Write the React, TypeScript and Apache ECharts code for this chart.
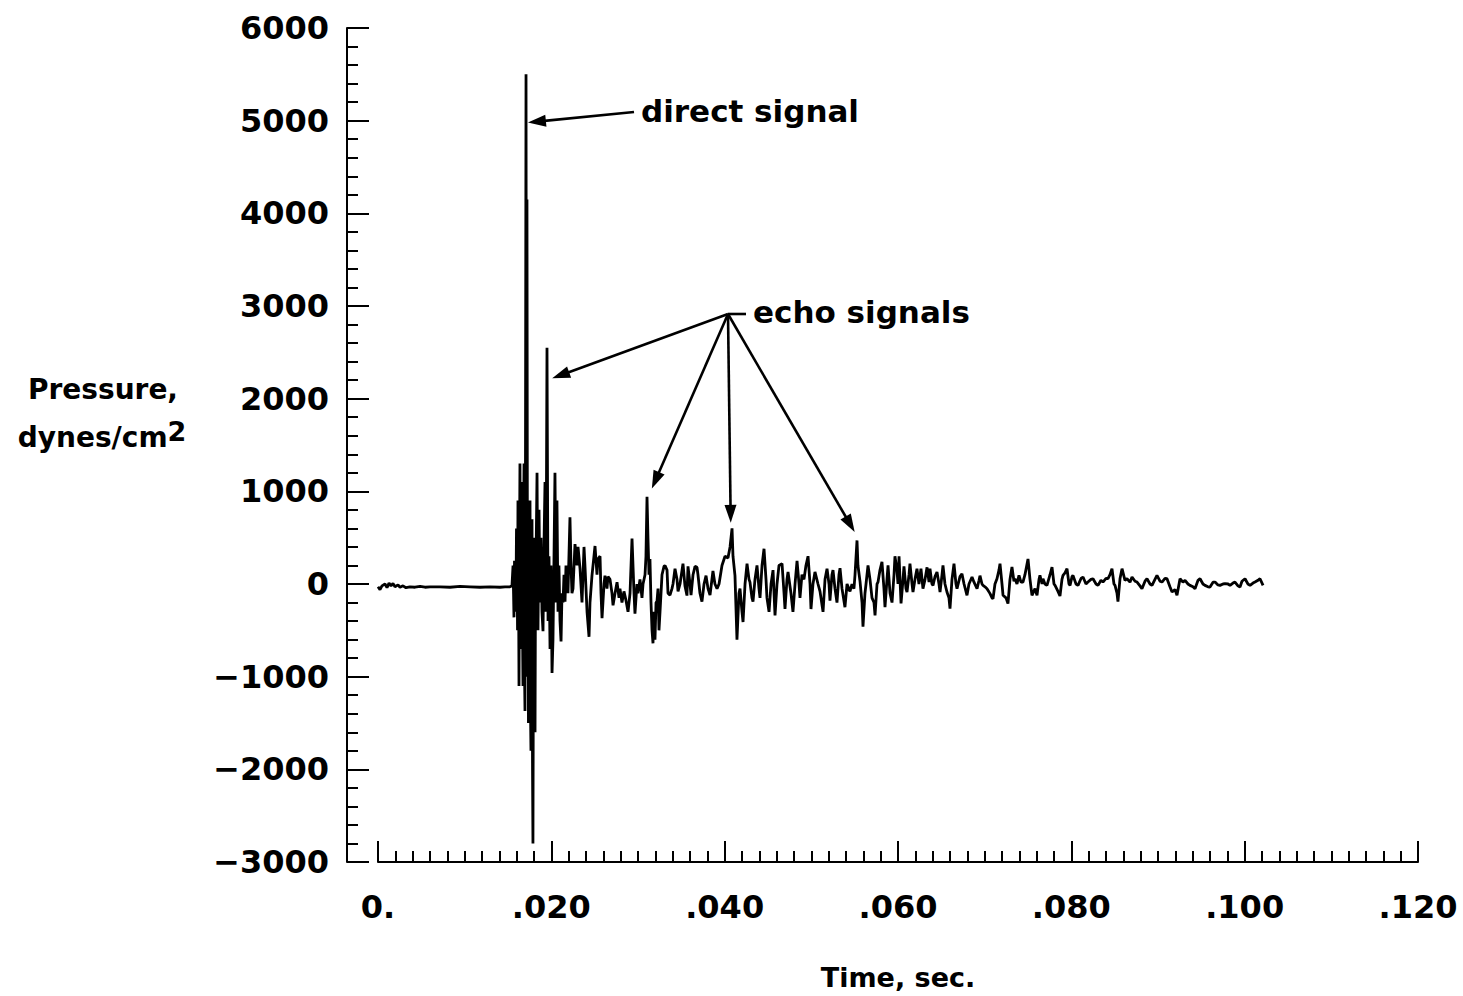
import React, { useEffect, useRef } from "react";
import * as echarts from "echarts";

// Pressure trace, [time in ms, pressure in dynes/cm²]
const PRE_TRIGGER: [number, number][] = [
  [0.0, -30], [0.23, -60], [0.46, -20], [0.81, 0], [1.04, -40], [1.27, 10],
  [1.5, -20], [1.73, 5], [1.96, -30], [2.31, -10], [2.54, -35], [2.88, -20],
  [3.23, -40], [3.69, -30], [4.27, -35], [4.85, -25], [5.42, -35], [6.0, -30],
  [7.15, -30], [8.31, -35], [9.46, -25], [10.62, -30], [11.77, -35], [12.92, -30],
  [14.08, -35], [14.65, -30], [15.23, -30], [15.46, -20],
];

const DIRECT_BURST: [number, number][] = [
  [15.58, 200], [15.64, -100], [15.69, -360], [15.75, 250], [15.81, 100], [15.87, -300],
  [15.92, -150], [15.98, 600], [16.04, 300], [16.1, -500], [16.15, 900], [16.21, 200],
  [16.27, -1100], [16.33, 400], [16.38, 1300], [16.44, -300], [16.5, -700], [16.56, 800],
  [16.62, 1100], [16.67, -400], [16.73, -1100], [16.79, 500], [16.85, 1300], [16.9, -900],
  [16.96, -1370], [17.02, 1500], [17.08, 5500], [17.14, -1000], [17.19, 4150], [17.25, -600],
  [17.31, 800], [17.36, -1500], [17.42, -1200], [17.48, 600], [17.54, 900], [17.6, -1400],
  [17.65, -1800], [17.71, 300], [17.77, 700], [17.83, -2000], [17.88, -2800], [17.94, -300],
  [18.0, 500], [18.06, -1100], [18.12, -1600], [18.17, 0], [18.23, 200], [18.35, 1200],
  [18.46, -500], [18.58, 800], [18.69, -200], [18.81, 500], [18.92, -300], [19.04, -510],
  [19.15, 400], [19.27, 1100], [19.38, -300], [19.5, 2550], [19.62, -400], [19.73, 300],
  [19.85, -700], [19.96, 200], [20.08, -960], [20.19, -600], [20.31, 300], [20.42, 1200],
  [20.54, -200], [20.65, 900], [20.77, -300], [20.88, 200], [21.0, -400], [21.12, -620],
  [21.23, -100], [21.35, -200], [21.46, 100], [21.58, -190], [21.69, 200], [21.81, 100],
  [21.92, -100], [22.15, 720], [22.27, 200], [22.38, -100], [22.5, -50], [22.73, 430],
  [22.96, 200], [23.08, 400], [23.31, 165], [23.54, -200], [23.77, 400], [23.88, 200],
  [24.12, -300], [24.35, -570], [24.46, -200], [24.69, 90], [24.92, 300], [25.04, 410],
  [25.27, 100], [25.38, 270], [25.62, 300],
];

const ECHO_TRAIN: [number, number][] = [
  [25.73, -100], [25.85, -370], [26.08, 0], [26.19, 90], [26.42, -50], [26.54, 80],
  [26.77, 50], [27.0, -100], [27.12, -230], [27.35, -100], [27.58, 20], [27.81, -150],
  [27.92, -50], [28.15, -200], [28.38, -80], [28.62, -180], [28.85, -300], [29.08, -100],
  [29.31, 490], [29.54, -100], [29.65, -320], [29.88, 0], [30.0, -100], [30.23, 50],
  [30.46, -150], [30.58, 0], [30.81, 100], [30.92, 300], [31.04, 940], [31.15, 500],
  [31.27, 100], [31.38, 270], [31.5, -200], [31.62, -500], [31.73, -640], [31.85, -300],
  [31.96, -600], [32.08, -200], [32.19, -190], [32.31, -50], [32.42, -500], [32.54, -300],
  [32.77, 100], [33.0, 190], [33.12, 200], [33.35, 150], [33.46, -100], [33.69, -120],
  [33.92, -50], [34.04, 0], [34.27, 165], [34.5, 50], [34.62, -80], [34.85, 0],
  [35.19, 220], [35.42, -20], [35.65, -125], [35.77, 190], [36.0, 0], [36.12, -120],
  [36.35, 100], [36.58, 190], [36.81, 180], [36.92, 100], [37.15, -100], [37.38, -190],
  [37.62, 0], [37.85, 90], [38.08, -50], [38.31, -120], [38.65, 140], [38.88, 0],
  [39.12, -50], [39.35, 0], [39.69, 200], [40.04, 300], [40.38, 280], [40.62, 400],
  [40.85, 600], [40.96, 300], [41.19, 90], [41.42, -600], [41.65, -100], [41.77, -50],
  [42.0, -300], [42.12, -410], [42.35, 0], [42.58, 220], [42.81, 50], [42.92, 20],
  [43.15, -150], [43.27, -190], [43.5, 50], [43.73, 200], [43.96, -50], [44.08, -150],
  [44.31, 200], [44.54, 380], [44.77, 50], [44.88, -150], [45.12, -300], [45.35, 0],
  [45.58, 150], [45.81, -340], [46.04, 0], [46.27, 200], [46.62, 220], [46.85, -100],
  [46.96, -270], [47.19, 50], [47.31, 130], [47.65, -100], [47.88, -300], [48.12, 0],
  [48.35, 250], [48.58, 0], [48.69, -150], [48.92, 100], [49.15, 50], [49.38, 200],
  [49.62, 300], [49.85, 0], [49.96, -270], [50.19, 0], [50.42, 130], [50.77, 0],
  [51.0, -80], [51.35, -300], [51.58, 50], [51.81, 165], [52.04, 0], [52.15, -180],
  [52.38, 100], [52.5, 150], [52.73, -50], [52.96, -200], [53.19, 100], [53.31, 170],
  [53.54, -50], [53.88, -250], [54.12, 0], [54.46, -80], [54.69, 0], [54.92, -50],
  [55.04, 100], [55.27, 470], [55.38, 200], [55.62, 25], [55.85, -200], [55.96, -460],
  [56.19, -100], [56.31, 0], [56.54, 200], [56.77, 50], [57.0, -150], [57.23, -200],
  [57.35, -340], [57.58, 0], [57.69, 20], [57.92, 150], [58.15, 240], [58.38, -50],
  [58.5, -250], [58.73, 50], [58.85, 200], [59.08, -100], [59.31, -200], [59.54, 100],
  [59.65, 300], [59.88, 150], [60.0, 0],
];

const LATE_DECAY: [number, number][] = [
  [60.12, 300], [60.35, -210], [60.58, 50], [60.69, 190], [60.92, -50], [61.04, -86],
  [61.27, 100], [61.38, 220], [61.62, 0], [61.73, -86], [61.96, 50], [62.19, 165],
  [62.42, 0], [62.65, 165], [62.88, -51], [63.12, 50], [63.35, 180], [63.58, 20],
  [63.69, 165], [63.92, 0], [64.04, -15], [64.27, 80], [64.5, 130], [64.73, 0],
  [64.85, -86], [65.08, 100], [65.19, 200], [65.42, 0], [65.65, -86], [65.88, -150],
  [66.0, -266], [66.23, 50], [66.46, 220], [66.69, 0], [66.81, -51], [67.15, 80],
  [67.38, 111], [67.62, 0], [67.96, -122], [68.19, 0], [68.54, 75], [68.77, 20],
  [69.12, -51], [69.35, 40], [69.46, 90], [69.69, 0], [69.81, -15], [70.04, -30],
  [70.27, -51], [70.62, -104], [70.85, -150], [70.96, -160], [71.19, 0], [71.42, 57],
  [71.65, 150], [71.77, 220], [72.0, 0], [72.12, -122], [72.46, -150], [72.69, -212],
  [72.92, 50], [73.15, 183], [73.38, 30], [73.5, 57], [73.73, 0], [73.96, 93],
  [74.19, 20], [74.42, 21], [74.65, 100], [75.0, 270], [75.23, 50], [75.46, -122],
  [75.81, -50], [76.04, -122], [76.27, 50], [76.38, 93], [76.62, 0], [76.73, 57],
  [76.96, 0], [77.19, -15], [77.54, 100], [77.77, 183], [78.0, 0], [78.12, -15],
  [78.46, -80], [78.69, -130], [78.92, 50], [79.04, 93], [79.27, 120], [79.5, 165],
  [79.73, 0], [79.85, -15], [80.08, 80], [80.19, 93], [80.54, 0], [80.77, -15],
  [81.12, 60], [81.35, 75], [81.69, 0], [81.92, 21], [82.27, 50], [82.5, 57],
  [82.85, 0], [83.08, -15], [83.42, 40], [83.65, 21], [84.0, 60], [84.23, 57],
  [84.46, 100], [84.69, 165], [84.92, 0], [85.04, -15], [85.27, -100], [85.38, -190],
  [85.62, 60], [85.85, 165], [86.19, 40], [86.42, 57], [86.77, 20], [87.0, 75],
  [87.35, 30], [87.58, 21], [87.92, -20], [88.15, -51], [88.5, 30], [88.73, 57],
  [89.08, 0], [89.31, -15], [89.65, 50], [89.88, 93], [90.23, 30], [90.46, 21],
  [90.81, 60], [91.04, 57], [91.38, -30], [91.62, -86], [91.96, -60], [92.19, -122],
  [92.54, 57], [92.88, 20], [93.12, 39], [93.46, 0], [93.69, -15], [94.04, -30],
  [94.27, -51], [94.62, 40], [94.85, 57], [95.19, 0], [95.42, -15], [95.77, -30],
  [96.0, -33], [96.35, 20], [96.58, 21], [96.92, -10], [97.15, -15], [97.5, 0],
  [97.73, 3], [98.08, 0], [98.31, -15], [98.65, 10], [98.88, 21], [99.23, -20],
  [99.46, -33], [99.69, 30], [100.04, 57], [100.38, 0], [100.62, -15], [100.96, 10],
  [101.19, 21], [101.54, 40], [101.77, 57], [102.12, -15],
];

// Axis ranges
const T_MIN = 0;
const T_MAX = 0.12;
const T_STEP = 0.02;
const P_MIN = -3000;
const P_MAX = 6000;
const P_STEP = 1000;

// Where the annotation arrows point, [ms, dynes/cm²]
const DIRECT_TARGET: [number, number] = [17.3, 4980];
const ECHO_TARGETS: [number, number][] = [
  [20.1, 2220],
  [31.6, 1030],
  [40.7, 660],
  [55.0, 560],
];

const FONT = '"DejaVu Sans", "Liberation Sans", sans-serif';
const INK = "#000";

function formatTime(v: number): string {
  if (v === 0) return "0.";
  return "." + String(Math.round(v * 1000)).padStart(3, "0");
}

function formatPressure(v: number): string {
  return v < 0 ? "\u2212" + Math.abs(v) : String(v);
}

function arrow(from: [number, number], to: [number, number]) {
  const dx = to[0] - from[0];
  const dy = to[1] - from[1];
  const len = Math.hypot(dx, dy);
  const ux = dx / len;
  const uy = dy / len;
  const nx = -uy;
  const ny = ux;
  const headLen = 18;
  const headHalf = 6;
  const bx = to[0] - ux * headLen;
  const by = to[1] - uy * headLen;
  return [
    {
      type: "line",
      shape: { x1: from[0], y1: from[1], x2: bx + ux * 4, y2: by + uy * 4 },
      style: { stroke: INK, lineWidth: 2.6 },
      silent: true,
    },
    {
      type: "polygon",
      shape: {
        points: [
          [to[0], to[1]],
          [bx + nx * headHalf, by + ny * headHalf],
          [bx - nx * headHalf, by - ny * headHalf],
        ],
      },
      style: { fill: INK },
      silent: true,
    },
  ];
}

export default function App() {
  const ref = useRef<HTMLDivElement>(null);

  useEffect(() => {
    if (!ref.current) return;
    const chart = echarts.init(ref.current, null, { renderer: "svg" });

    const trace = [...PRE_TRIGGER, ...DIRECT_BURST, ...ECHO_TRAIN, ...LATE_DECAY].map(
      ([ms, p]) => [ms / 1000, p]
    );

    const tickLabel = {
      fontFamily: FONT,
      fontWeight: "bold" as const,
      fontSize: 32,
      color: INK,
    };

    chart.setOption({
      animation: false,
      backgroundColor: "#fff",
      grid: { left: 378, right: 45, top: 28, bottom: 132, containLabel: false },
      xAxis: {
        type: "value",
        min: T_MIN,
        max: T_MAX,
        interval: T_STEP,
        name: "Time, sec.",
        nameLocation: "middle",
        nameGap: 102,
        nameTextStyle: { fontFamily: FONT, fontWeight: "bold", fontSize: 27, color: INK },
        axisLine: { show: true, onZero: false, lineStyle: { color: INK, width: 2 } },
        axisTick: { show: true, inside: true, length: 21, lineStyle: { color: INK, width: 2 } },
        minorTick: { show: true, splitNumber: 10, length: 11, lineStyle: { color: INK, width: 2 } },
        axisLabel: { ...tickLabel, margin: 29, formatter: formatTime, showMinLabel: true, showMaxLabel: true },
        splitLine: { show: false },
        minorSplitLine: { show: false },
      },
      yAxis: {
        type: "value",
        min: P_MIN,
        max: P_MAX,
        interval: P_STEP,
        offset: 31,
        axisLine: { show: true, onZero: false, lineStyle: { color: INK, width: 2 } },
        axisTick: { show: true, inside: true, length: 22, lineStyle: { color: INK, width: 2 } },
        minorTick: { show: true, splitNumber: 5, length: 11, lineStyle: { color: INK, width: 2 } },
        axisLabel: { ...tickLabel, margin: 18, formatter: formatPressure, showMinLabel: true, showMaxLabel: true },
        splitLine: { show: false },
        minorSplitLine: { show: false },
      },
      series: [
        {
          type: "line",
          data: trace,
          showSymbol: false,
          symbol: "none",
          clip: true,
          lineStyle: { color: INK, width: 2.8 },
          emphasis: { disabled: true },
        },
      ],
    });

    const toPx = (d: [number, number]) =>
      chart.convertToPixel({ gridIndex: 0 }, [d[0] / 1000, d[1]]) as [number, number];

    const hub: [number, number] = [728, 314];
    const graphics: any[] = [
      {
        type: "text",
        x: 641,
        y: 111,
        style: { text: "direct signal", font: `bold 31px ${FONT}`, fill: INK, align: "left", verticalAlign: "middle" },
      },
      ...arrow([634, 112], toPx(DIRECT_TARGET)),
      {
        type: "text",
        x: 753,
        y: 312,
        style: { text: "echo signals", font: `bold 31px ${FONT}`, fill: INK, align: "left", verticalAlign: "middle" },
      },
      {
        type: "line",
        shape: { x1: hub[0], y1: hub[1], x2: 746, y2: hub[1] },
        style: { stroke: INK, lineWidth: 2.6 },
      },
      ...ECHO_TARGETS.flatMap((t) => arrow(hub, toPx(t))),
      {
        type: "text",
        x: 103,
        y: 389,
        style: { text: "Pressure,", font: `bold 28px ${FONT}`, fill: INK, align: "center", verticalAlign: "middle" },
      },
      {
        type: "text",
        x: 102,
        y: 437,
        style: {
          text: "dynes/cm{sup|2}",
          font: `bold 28px ${FONT}`,
          fill: INK,
          align: "center",
          verticalAlign: "middle",
          rich: {
            sup: { fontFamily: FONT, fontWeight: "bold", fontSize: 27, verticalAlign: "bottom", padding: [0, 0, 12, 0] },
          },
        },
      },
    ];

    chart.setOption({ graphic: graphics });

    return () => chart.dispose();
  }, []);

  return (
    <div
      ref={ref}
      style={{ position: "fixed", left: 0, top: 0, width: 1463, height: 996, background: "#fff" }}
    />
  );
}
